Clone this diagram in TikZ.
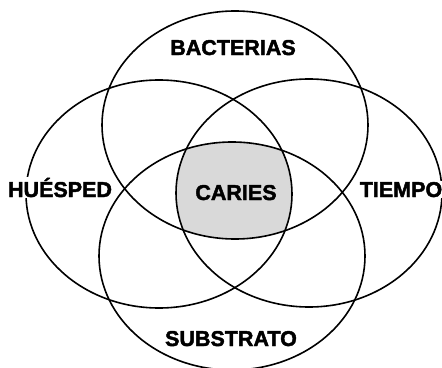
\documentclass[tikz,border=0pt]{standalone}
\usepackage{fontspec}
\setmainfont{Liberation Sans}
\newfontfamily\gruesa[FakeBold=2]{Liberation Sans Bold}
\usepackage{xcolor}

\begin{document}
\begin{tikzpicture}[x=1pt, y=-1pt, line width=1.6pt,
  etiqueta/.style={font=\fontsize{21.5}{21.5}\gruesa, anchor=base, inner sep=1pt}]
  \useasboundingbox (0,0) rectangle (442,367);
  % zona comun de los cuatro factores
  \begin{scope}
    \clip (235,125) ellipse [x radius=133, y radius=114];
    \clip (159,194) ellipse [x radius=133, y radius=114];
    \clip (309,193) ellipse [x radius=133, y radius=114];
    \fill[gray!30] (232,256) ellipse [x radius=133, y radius=114];
  \end{scope}
  \foreach \cx/\cy in {235/125,159/194,309/193,232/256} {
    \draw (\cx,\cy) ellipse [x radius=133, y radius=114];
  }
  \node[etiqueta] (bacterias) at (233,55) {BACTERIAS};
  \node[etiqueta, fill=white] (huesped) at (60,197) {HUÉSPED};
  \node[etiqueta, fill=white] (tiempo) at (401,197) {TIEMPO};
  \node[etiqueta] (caries) at (236,200) {CARIES};
  \node[etiqueta] (substrato) at (231,346) {SUBSTRATO};
\end{tikzpicture}
\end{document}
